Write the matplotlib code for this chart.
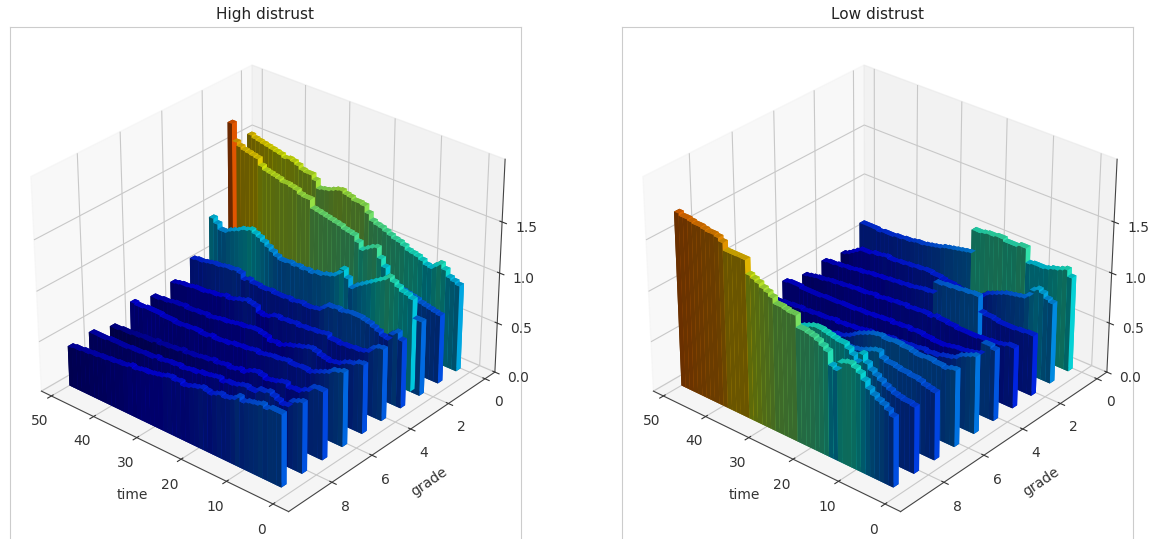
import numpy as np
import matplotlib
matplotlib.use('Agg')
import matplotlib.pyplot as plt
from matplotlib.colors import Normalize

W, H = 1175, 539

# one list per grade, values run from time 2 to time 49
times = list(range(2, 50))

high_g0 = [.86,.88,.90,.96,1.0,.96,.92,.93,.96,.98,.99,1.0,1.03,1.05,1.06,1.08,1.10,1.12,1.13,1.15,1.21,1.27,1.28,1.28,1.30,1.31,1.33,1.32,1.30,1.28,1.27,1.26,1.33,1.37,1.37,1.38,1.41,1.43,1.44,1.43,1.45,1.46,1.47,1.48,1.49,1.50,1.51,1.53]
high_g1 = [.68,.69,.70,.71,.72,.74,.75,.76,.77,.79,.81,.83,.93,1.0,1.09,1.07,1.04,1.01,1.07,1.12,1.13,1.14,1.16,1.17,1.18,1.19,1.20,1.21,1.22,1.30,1.30,1.31,1.34,1.35,1.36,1.36,1.38,1.39,1.40,1.41,1.44,1.50,1.51,1.52,1.53,1.55,1.58,1.75]
high_g2 = [.74,.74,.92,.94,.95,.98,1.01,1.04,1.0,.97,.94,.91,.88,.85,.82,.78,.86,.93,.87,.83,.81,.80,.78,.78,.76,.77,.76,.77,.76,.77,.76,.76,.78,.81,.84,.87,.90,.92,.94,.92,.91,.88,.86,.84,.81,.81,.86,.90]
high_g3 = [.67,.73,.69,.62,.63,.66,.68,.70,.71,.72,.72,.72,.71,.70,.71,.70,.70,.66,.62,.61,.60,.60,.61,.60,.59,.60,.59,.59,.59,.60,.59,.59,.60,.60,.62,.60,.65,.66,.65,.65,.64,.63,.63,.62,.61,.60,.60,.59]
high_g4 = [.71,.70,.67,.62,.60,.59,.59,.58,.58,.57,.58,.58,.61,.60,.59,.59,.58,.58,.57,.58,.57,.57,.56,.57,.56,.53,.52,.53,.58,.59,.60,.58,.57,.55,.54,.55,.53,.52,.52,.51,.50,.50,.50,.49,.48,.48,.47,.46]
high_g5 = [.68,.67,.64,.63,.61,.58,.57,.56,.57,.58,.60,.61,.60,.58,.57,.55,.54,.52,.50,.51,.50,.53,.54,.55,.55,.54,.53,.53,.52,.51,.50,.50,.49,.48,.47,.48,.47,.47,.46,.46,.47,.46,.46,.45,.44,.44,.43,.43]
high_g6 = [.73,.71,.70,.66,.64,.62,.60,.58,.59,.59,.58,.58,.59,.58,.57,.57,.56,.55,.54,.55,.54,.53,.53,.52,.52,.50,.50,.49,.49,.50,.48,.48,.49,.49,.48,.48,.47,.47,.48,.48,.48,.49,.49,.49,.49,.48,.48,.49]
high_g7 = [.67,.67,.66,.61,.59,.56,.56,.55,.58,.57,.55,.54,.53,.55,.56,.55,.53,.50,.51,.49,.48,.49,.48,.47,.48,.46,.46,.45,.44,.44,.43,.44,.42,.42,.41,.41,.40,.41,.39,.39,.39,.38,.38,.37,.37,.37,.36,.36]
high_g8 = [.69,.67,.65,.59,.58,.60,.62,.64,.62,.62,.58,.58,.59,.58,.56,.55,.55,.53,.55,.54,.53,.52,.52,.50,.50,.49,.48,.49,.48,.48,.47,.46,.47,.45,.45,.45,.44,.44,.44,.43,.43,.43,.43,.43,.42,.42,.42,.42]
high_g9 = [.71,.71,.71,.69,.71,.69,.68,.67,.65,.68,.64,.62,.61,.62,.60,.58,.59,.60,.58,.57,.55,.54,.56,.55,.56,.55,.53,.52,.51,.50,.50,.49,.48,.49,.47,.46,.46,.45,.45,.44,.44,.43,.43,.42,.42,.41,.41,.40]

low_g0 = [.94,1.0,.98,.96,.95,.93,.92,.92,.92,.91,1.05,1.05,1.03,1.03,1.03,1.05,1.05,1.04,1.04,1.03,1.02,1.02,.78,.77,.76,.75,.74,.73,.72,.70,.69,.68,.67,.66,.66,.65,.64,.64,.63,.63,.62,.62,.62,.61,.62,.62,.62,.62]
low_g1 = [.80,.82,.86,.88,.85,.78,.74,.73,.72,.71,.70,.68,.66,.64,.62,.58,.52,.53,.54,.55,.55,.56,.57,.57,.58,.59,.59,.60,.60,.59,.59,.58,.58,.57,.57,.56,.56,.57,.56,.55,.55,.53,.53,.53,.50,.47,.44,.42]
low_g2 = [.60,.60,.59,.59,.58,.58,.58,.58,.59,.60,.60,.61,.76,.76,.75,.75,.74,.74,.73,.73,.72,.72,.60,.59,.59,.58,.57,.56,.56,.55,.55,.54,.54,.53,.53,.52,.52,.51,.50,.50,.49,.48,.48,.47,.47,.46,.46,.45]
low_g3 = [.60,.60,.58,.57,.56,.56,.55,.55,.54,.54,.54,.54,.54,.55,.55,.56,.56,.57,.55,.56,.56,.55,.55,.54,.55,.54,.54,.53,.53,.52,.51,.52,.51,.50,.50,.50,.49,.49,.48,.48,.47,.47,.46,.45,.45,.44,.43,.42]
low_g4 = [.70,.72,.72,.60,.58,.57,.56,.55,.55,.54,.53,.52,.52,.52,.53,.53,.54,.54,.53,.54,.53,.53,.52,.53,.52,.52,.51,.51,.50,.50,.50,.49,.49,.49,.49,.48,.48,.48,.48,.47,.47,.47,.47,.47,.48,.48,.48,.47]
low_g5 = [.76,.74,.72,.70,.66,.64,.63,.62,.60,.60,.59,.60,.59,.58,.58,.57,.57,.56,.57,.56,.55,.54,.53,.54,.53,.52,.51,.51,.50,.50,.49,.50,.49,.48,.48,.48,.47,.47,.46,.47,.46,.46,.45,.45,.44,.44,.44,.44]
low_g6 = [.75,.74,.72,.73,.73,.74,.74,.73,.73,.74,.75,.75,.76,.76,.75,.75,.76,.75,.74,.72,.70,.68,.65,.62,.60,.58,.58,.56,.55,.54,.53,.53,.52,.51,.50,.49,.48,.47,.46,.45,.45,.44,.43,.43,.42,.41,.41,.40]
low_g7 = [.66,.67,.68,.70,.71,.71,.72,.72,.73,.74,.74,.76,.81,.80,.78,.76,.74,.73,.72,.72,.70,.68,.66,.64,.62,.60,.58,.56,.55,.54,.53,.52,.51,.50,.49,.48,.47,.46,.45,.44,.44,.43,.43,.42,.42,.41,.41,.40]
low_g8 = [.65,.66,.66,.67,.68,.70,.72,.75,.78,.81,.86,.93,.83,.88,.92,.95,.95,.96,.97,.98,.99,.99,.98,.96,.94,.92,.90,.88,.85,.82,.78,.74,.70,.66,.62,.60,.58,.56,.54,.52,.50,.49,.48,.47,.46,.45,.44,.43]
low_g9 = [.68,.72,.75,.77,.80,.84,.90,.95,.98,1.0,.99,.97,.88,.90,1.02,1.05,1.08,1.10,1.11,1.12,1.12,1.23,1.23,1.24,1.25,1.25,1.30,1.33,1.35,1.38,1.40,1.42,1.55,1.55,1.55,1.55,1.55,1.62,1.65,1.66,1.66,1.67,1.68,1.68,1.69,1.70,1.70,1.72]

high_all = [high_g0, high_g1, high_g2, high_g3, high_g4, high_g5, high_g6, high_g7, high_g8, high_g9]
low_all = [low_g0, low_g1, low_g2, low_g3, low_g4, low_g5, low_g6, low_g7, low_g8, low_g9]

titles = ['High distrust', 'Low distrust']
x_ticks = [0, 10, 20, 30, 40, 50]
y_ticks = [0, 2, 4, 6, 8]
z_ticks = [0.0, 0.5, 1.0, 1.5]

norm = Normalize(0.3, 2.1)
cmap = plt.get_cmap('jet')


def draw_panel(fig, left, title, grid):
    # flat frame and title behind the 3d axes
    frame = fig.add_axes([left / W, 1 - 549 / H, 511 / W, 522 / H])
    frame.set_xticks([])
    frame.set_yticks([])
    for s in frame.spines.values():
        s.set_color('#cccccc')
    frame.set_title(title, fontsize=11, color='#222222')

    ax = fig.add_axes([(left - 3) / W, 1 - 541 / H, 511 / W, 514 / H], projection='3d')
    ax.patch.set_alpha(0)
    xs, ys, zs = [], [], []
    for g, row in enumerate(grid):
        for t, v in zip(times, row):
            xs.append(t)
            ys.append(g)
            zs.append(v)
    zs = np.array(zs)
    ax.bar3d(xs, ys, 0, 1, 0.25, zs, color=cmap(norm(zs)))
    ax.view_init(30, 130.5)
    ax.set_xlim(-3.3, 52.4)
    ax.set_ylim(-0.55, 10.1)
    ax.set_zlim(0, 2.1)
    ax.set_xticks(x_ticks)
    ax.set_yticks(y_ticks)
    ax.set_zticks(z_ticks)
    ax.tick_params(labelsize=10, colors='#333333', pad=2)
    ax.set_xlabel('time', color='#333333', fontsize=10)
    ax.set_ylabel('grade', color='#333333', fontsize=10)
    for axis in (ax.xaxis, ax.yaxis, ax.zaxis):
        axis._axinfo['grid']['color'] = '#c8c8c8'
        axis.line.set_color('#444444')
    return ax


fig = plt.figure(figsize=(W / 100, H / 100), dpi=100)
draw_panel(fig, 10, titles[0], high_all)
draw_panel(fig, 622, titles[1], low_all)
fig.savefig('out.png', dpi=100)
